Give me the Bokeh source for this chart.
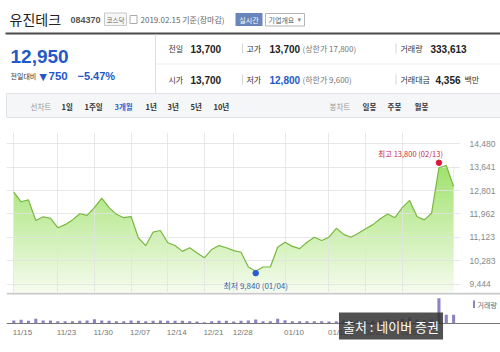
import numpy as np
from bokeh.plotting import figure
from bokeh.layouts import column
from bokeh.models import (Range1d, FixedTicker, NumeralTickFormatter, Span, Label)
from bokeh.core.properties import value
from bokeh.embed import file_html
from bokeh.resources import INLINE

# ---------------- data ----------------
stock_name = "유진테크"
stock_code = "084370"
market = "코스닥"
base_date = "2019.02.15"
current_price = 12950
change = 750
change_pct = -5.47
prev_close = 13700
open_price = 13700
day_high = 13700
day_low = 12800
upper_limit = 17800
lower_limit = 9600
today_volume = 333613
trade_amount = 4356

dates = ["11/15", "11/16", "11/19", "11/20", "11/21", "11/22", "11/23", "11/26", "11/27", "11/28",
         "11/29", "11/30", "12/03", "12/04", "12/05", "12/06", "12/07", "12/10", "12/11", "12/12",
         "12/13", "12/14", "12/17", "12/18", "12/19", "12/20", "12/21", "12/24", "12/26", "12/27",
         "12/28", "01/02", "01/03", "01/04", "01/07", "01/08", "01/09", "01/10", "01/11", "01/14",
         "01/15", "01/16", "01/17", "01/18", "01/21", "01/22", "01/23", "01/24", "01/25", "01/28",
         "01/29", "01/30", "01/31", "02/01", "02/07", "02/08", "02/11", "02/12", "02/13", "02/14",
         "02/15"]
close = [12750, 12400, 12470, 11730, 11860, 11810, 11470, 11580, 11750, 11970,
         11910, 12190, 12530, 12190, 11950, 11830, 11870, 11100, 10830, 11310,
         11370, 10930, 10830, 10620, 10750, 10560, 10390, 10690, 10830, 10750,
         10650, 10590, 10060, 9910, 10060, 10060, 10770, 10950, 10800, 10720,
         10950, 11130, 11010, 11130, 11450, 11230, 11130, 11270, 11430, 11580,
         11790, 11960, 11830, 12190, 12450, 11870, 11750, 11990, 13620, 13700,
         12950]
volume = [115000, 142000, 104000, 180000, 115000, 115000, 88000, 88000, 88000, 104000,
          115000, 165000, 115000, 104000, 88000, 88000, 115000, 104000, 88000, 104000,
          115000, 104000, 104000, 104000, 88000, 77000, 50000, 88000, 104000, 104000,
          77000, 104000, 115000, 153000, 88000, 88000, 180000, 128000, 88000, 88000,
          88000, 88000, 88000, 77000, 88000, 115000, 104000, 115000, 130000, 115000,
          115000, 150000, 130000, 190000, 230000, 150000, 130000, 150000, 970000, 340000,
          333613]
tick_dates = ["11/15", "11/23", "11/30", "12/07", "12/14", "12/21", "12/28",
              "01/10", "01/18", "01/25", "02/01"]
price_ticks = [9444, 10283, 11123, 11962, 12801, 13641, 14480]
high_date, high_value = "02/13", 13800
low_date, low_value = "01/04", 9840

# ---------------- layout constants ----------------
KR = "Noto Sans CJK KR"
NUM = "Liberation Sans"
BLUE = "#2458c6"
PX_LEFT = 6          # frame left edge (px)
X0_PX = 13.3         # pixel of first trading day
PX_PER_DAY = 7.33
idx = np.arange(len(dates))
tick_idx = [dates.index(d) for d in tick_dates]
x_start = -(X0_PX - PX_LEFT) / PX_PER_DAY

# ---------------- header ----------------
header = figure(width=500, height=132, x_range=Range1d(0, 500), y_range=Range1d(132, 0),
                output_backend="svg", toolbar_location=None, min_border=0,
                x_axis_location=None, y_axis_location=None, outline_line_color=None,
                frame_align=False)
header.grid.visible = False


def txt(p, x, y, s, size, color="#333", bold=False, font=KR, align="left"):
    p.text(x=[x], y=[y], text=[s], text_font=value(font), text_font_size=value(f"{size}px"),
           text_color=color, text_font_style="bold" if bold else "normal",
           text_align=align, text_baseline="middle")


# lines
header.segment(x0=[5, 155, 155, 242, 395.5, 242, 395.5, 79, 257],
               y0=[33, 34, 63.5, 43, 43, 74, 74, 101, 93],
               x1=[500, 155, 500, 242, 395.5, 242, 395.5, 79, 257],
               y1=[33, 93, 63.5, 53, 53, 84, 84, 110, 117],
               line_color=["#4a4a4a", "#dddddd", "#ececec", "#d5d5d5", "#d5d5d5",
                           "#d5d5d5", "#d5d5d5", "#cccccc", "#dde0e4"],
               line_width=[2, 1, 1, 1, 1, 1, 1, 1, 1])
# toolbar background
header.quad(left=[6], right=[500], top=[93], bottom=[117], fill_color="#f5f6f8",
            line_color="#e0e2e6")
# small boxes
header.quad(left=[104, 129.5, 235, 265], right=[126, 136.5, 262, 304],
            top=[12.5, 15, 12.5, 13], bottom=[25, 23, 25.5, 25.5],
            fill_color=["#f7f7f7", "#ffffff", "#6a85bb", "#ffffff"],
            line_color=["#c8c8c8", "#aaaaaa", None, "#b5b5b5"])

txt(header, 9, 18.5, stock_name, 14, "#222")
txt(header, 70, 19.5, stock_code, 9, "#555", True, NUM)
txt(header, 115, 19, market, 6.5, "#666", align="center")
txt(header, 140, 19, f"{base_date} 기준(장마감)", 8, "#666")
txt(header, 248.5, 19, "실시간", 7, "#ffffff", align="center")
txt(header, 268, 19.5, "기업개요", 7, "#555")
txt(header, 297, 19.5, "▾", 7, "#888", font="DejaVu Sans")

txt(header, 10, 56, f"{current_price:,}", 19, BLUE, True, NUM)
txt(header, 10, 75.5, "전일대비", 7, "#333")
txt(header, 39, 75.5, "▼", 9.5, BLUE, font="DejaVu Sans")
txt(header, 48, 75.5, f"{change:,}", 11.5, BLUE, True, NUM)
txt(header, 77, 75.5, f"\u2212{abs(change_pct):.2f}%", 11, BLUE, True, NUM)

# info table
txt(header, 168, 48, "전일", 8)
txt(header, 190, 48, f"{prev_close:,}", 10, "#222", True, NUM)
txt(header, 246, 48, "고가", 8)
txt(header, 269, 48, f"{day_high:,}", 10, "#222", True, NUM)
txt(header, 302, 48, f"(상한가 {upper_limit:,})", 8, "#777")
txt(header, 400, 48, "거래량", 8)
txt(header, 430, 48, f"{today_volume:,}", 10, "#222", True, NUM)

txt(header, 168, 79, "시가", 8)
txt(header, 190, 79, f"{open_price:,}", 10, "#222", True, NUM)
txt(header, 246, 79, "저가", 8)
txt(header, 269, 79, f"{day_low:,}", 10, BLUE, True, NUM)
txt(header, 302, 79, f"(하한가 {lower_limit:,})", 8, "#777")
txt(header, 400, 79, "거래대금", 8)
txt(header, 435, 79, f"{trade_amount:,}", 10, "#222", True, NUM)
txt(header, 464, 79, "백만", 8)

# toolbar
for x, s, c, b in [(30, "선차트", "#999", False), (61, "1일", "#333", True), (84, "1주일", "#333", True),
                   (114, "3개월", "#3366cc", True), (145, "1년", "#333", True), (167, "3년", "#333", True),
                   (190, "5년", "#333", True), (213, "10년", "#333", True),
                   (329, "봉차트", "#999", False), (362, "일봉", "#333", True),
                   (387, "주봉", "#333", True), (414, "월봉", "#333", True)]:
    txt(header, x, 105.5, s, 7.5, c, b)

# ---------------- price chart ----------------
Y_START, Y_END = 9146, 14885
price = figure(width=500, height=160,
               x_range=Range1d(x_start, x_start + 454 / PX_PER_DAY),
               y_range=Range1d(Y_START, Y_END),
               output_backend="svg", toolbar_location=None,
               x_axis_location=None, y_axis_location="right",
               min_border_left=PX_LEFT, min_border_right=40, min_border_top=0, min_border_bottom=0,
               outline_line_color=None, frame_align=False)
price.xgrid.ticker = FixedTicker(ticks=tick_idx)
price.ygrid.ticker = FixedTicker(ticks=price_ticks)
for g in (price.xgrid, price.ygrid):
    g.grid_line_color = "#e2e2e2"
    g.grid_line_alpha = 0.8
    g.level = "glyph"

# gradient fill: image under, white cover above the line
n = 160
t = np.linspace(0, 1, n)[:, None]
top_c = np.array([160, 226, 108])
bot_c = np.array([246, 252, 239])
rgb = (bot_c + (top_c - bot_c) * t).astype(np.uint8)
img = np.zeros((n, 1), dtype=np.uint32)
view = img.view(np.uint8).reshape((n, 1, 4))
view[:, 0, 0:3] = rgb
view[:, 0, 3] = 255
price.image_rgba(image=[img], x=idx[0], y=Y_START, dw=idx[-1] - idx[0], dh=max(close) - Y_START,
                 level="image")
price.varea(x=idx, y1=close, y2=Y_END, fill_color="white", level="underlay")
price.line(idx, close, line_color="#78b83f", line_width=1.2, level="guide")

hi_i = dates.index(high_date)
lo_i = dates.index(low_date)
price.scatter([hi_i], [high_value], size=5.5, color="#e0163a", level="annotation")
price.scatter([lo_i], [low_value], size=5.5, color="#2b5bd3", level="annotation")
price.text(x=[hi_i], y=[high_value], text=[f"최고 {high_value:,} ({high_date})"],
           text_font=value(KR), text_font_size=value("7.5px"), text_color="#c8283f",
           text_align="right", text_baseline="middle", x_offset=4, y_offset=-9, level="annotation")
price.text(x=[lo_i], y=[low_value], text=[f"최저 {low_value:,} ({low_date})"],
           text_font=value(KR), text_font_size=value("8px"), text_color="#3b62ad",
           text_align="center", text_baseline="middle", y_offset=12, level="annotation")

ya = price.yaxis[0]
ya.ticker = FixedTicker(ticks=price_ticks)
ya.formatter = NumeralTickFormatter(format="0,0")
ya.axis_line_color = None
ya.major_tick_line_color = None
ya.minor_tick_line_color = None
ya.major_label_standoff = 3
ya.major_label_text_font = NUM
ya.major_label_text_font_size = "8.5px"
ya.major_label_text_color = "#888"

# ---------------- volume chart ----------------
VOL_PER_PX = today_volume / 8.7
TOP_PX = 292
BASE_PX = 323
BOTTOM_PX = 352


def px_to_idx(px):
    return (px - X0_PX) / PX_PER_DAY


def px_to_vol(py):
    return (BASE_PX - py) * VOL_PER_PX


vol = figure(width=500, height=BOTTOM_PX - TOP_PX,
             x_range=Range1d(x_start, x_start + (500 - PX_LEFT) / PX_PER_DAY),
             y_range=Range1d(px_to_vol(BOTTOM_PX), px_to_vol(TOP_PX)),
             output_backend="svg", toolbar_location=None,
             x_axis_location=None, y_axis_location=None,
             min_border_left=PX_LEFT, min_border_right=0, min_border_top=0, min_border_bottom=0,
             outline_line_color=None, frame_align=False)
vol.grid.visible = False
vol.vbar(x=idx, top=volume, width=0.42, fill_color="#8c84c2", line_color=None)
# chart bottom rule and volume baseline
vol.add_layout(Span(location=px_to_vol(TOP_PX + 1), dimension="width",
                    line_color="#c9c9c9", line_width=2))
vol.add_layout(Span(location=0, dimension="width", line_color="#777777", line_width=1))

# date labels (left-aligned at each grid date)
vol.text(x=tick_idx, y=px_to_vol(331.5), text=tick_dates, text_font=value(NUM),
         text_font_size=value("8px"), text_color="#777", text_align="left",
         text_baseline="middle", x_offset=-1)

# legend swatch + text
vol.quad(left=[px_to_idx(472.5)], right=[px_to_idx(474.5)], top=[px_to_vol(300)],
         bottom=[px_to_vol(307.5)], fill_color="#8c84c2", line_color=None)
vol.text(x=[px_to_idx(477)], y=[px_to_vol(304)], text=["거래량"], text_font=value(KR),
         text_font_size=value("7px"), text_color="#666", text_baseline="middle")

vol.add_layout(Label(x=px_to_idx(390.5), y=px_to_vol(325.5), text="출처 : 네이버 증권",
                     text_align="center", text_baseline="middle", text_color="white",
                     text_font=KR, text_font_size="13px",
                     background_fill_color="#333333", background_fill_alpha=0.85,
                     padding=4))

layout = column(header, price, vol, spacing=0)
open("out.html", "w").write(file_html(layout, INLINE))
